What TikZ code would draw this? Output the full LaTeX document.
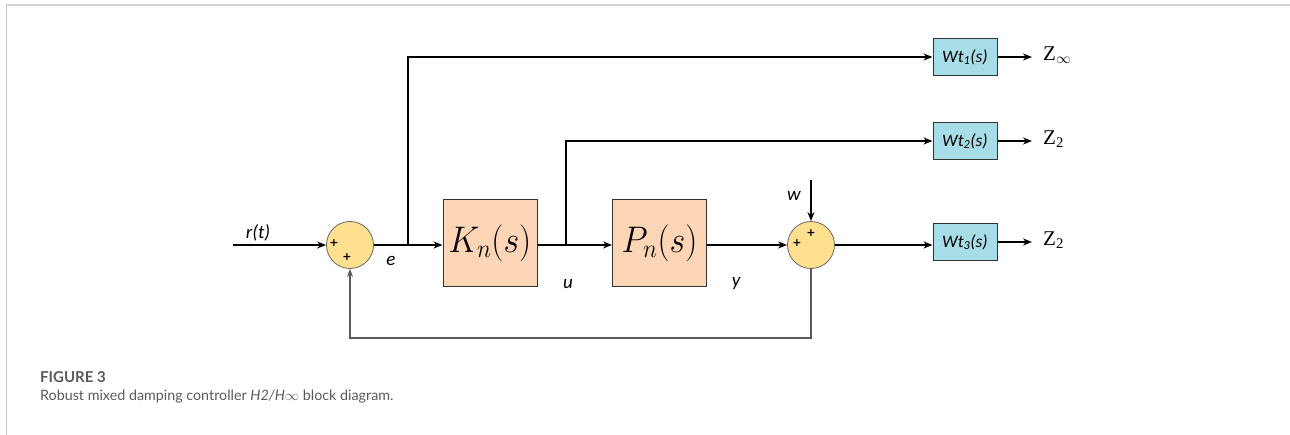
\RequirePackage{fix-cm}
\documentclass[tikz,border=0pt]{standalone}
\usepackage{fontspec}
\setmainfont{Lato}
\newfontfamily\carlito{Carlito}
\newfontfamily\lserif{Liberation Serif}
\newfontfamily\dejavu{DejaVu Sans}
\usetikzlibrary{arrows.meta}
\definecolor{sumfill}{HTML}{FFE08F}
\definecolor{kfill}{HTML}{FBD5B5}
\definecolor{wfill}{HTML}{A7DDE6}
\definecolor{capgray}{HTML}{5A5A5A}
\tikzset{
  sumnode/.style={circle, draw=gray!80!black, line width=0.8pt, fill=sumfill, minimum size=47pt, inner sep=0pt},
  blockbox/.style={draw=gray!40!black, line width=1pt, fill=kfill, minimum width=94pt, minimum height=87pt, inner sep=0pt},
  wbox/.style={draw=gray!40!black, line width=1pt, fill=wfill, minimum width=64pt, minimum height=37pt, inner sep=0pt, font=\carlito\itshape\fontsize{17.5}{17.5}\selectfont},
  sig/.style={line width=1.8pt, -{Stealth[length=9pt,width=7pt]}},
  fb/.style={line width=1.1pt, draw=gray!70!black, -{Stealth[length=8pt,width=6pt]}},
  lbl/.style={font=\carlito\itshape\fontsize{19}{19}\selectfont},
  plus/.style={font=\dejavu\bfseries\fontsize{11}{11}\selectfont, inner sep=0pt},
  zlbl/.style={font=\lserif\fontsize{21}{21}\selectfont, anchor=west, inner sep=0pt},
  blocklbl/.style={font=\fontsize{37}{37}\selectfont},
}
\begin{document}
\begin{tikzpicture}[x=1pt,y=-1pt]
\useasboundingbox (0,0) rectangle (1290,435);
% frame
\draw[line width=2pt, draw=gray!35] (6,5) -- (1290,5);
\draw[line width=0.8pt, draw=gray!45] (6.5,5) -- (6.5,435);

% nodes
\coordinate (rin) at (233,245);
\node[sumnode] (s1) at (350,245) {};
\node[plus] at (334,243) {+};
\node[plus] at (347,257) {+};
\node[blockbox, blocklbl] (K) at (490,243) {\scalebox{0.92}[1]{$K_n(s)$}};
\node[blockbox, blocklbl] (P) at (659.5,243) {\scalebox{0.92}[1]{$P_n(s)$}};
\node[sumnode] (s2) at (811,245) {};
\node[plus] at (797,243) {+};
\node[plus] at (811,233) {+};
\coordinate (win) at (811,180);
\node[wbox] (W1) at (965,57) {Wt\textsubscript{1}(s)};
\node[wbox] (W2) at (965,141) {Wt\textsubscript{2}(s)};
\node[wbox] (W3) at (965,242) {Wt\textsubscript{3}(s)};
\coordinate (b1) at (408,245);
\coordinate (b2) at (566,245);
\coordinate (fbc) at (811,338);
\coordinate (z1) at (1032,57);
\coordinate (z2) at (1032,141);
\coordinate (z3) at (1032,242);

% labels
\node[lbl] at (258,233) {r(t)};
\node[lbl] at (391,261) {e};
\node[lbl] at (568,284) {u};
\node[lbl] at (736,283) {y};
\node[lbl] at (794,196) {w};
\node[zlbl] at (1043,55) {Z\textsubscript{$\infty$}};
\node[zlbl] at (1043,139) {Z\textsubscript{2}};
\node[zlbl] at (1043,240) {Z\textsubscript{2}};

% connectors
\draw[sig] (rin) -- (s1.west);
\draw[sig] (s1.east) -- (K.west |- s1.east);
\draw[sig] (b1) |- (W1.west);
\draw[sig] (K.east |- b2) -- (P.west |- b2);
\draw[sig] (b2) |- (W2.west);
\draw[sig] (P.east |- s2.west) -- (s2.west);
\draw[sig] (win) -- (s2.north);
\draw[sig] (s2.east) -- (W3.west |- s2.east);
\draw[fb] (s2.south) -- (fbc) -| (s1.south);
\draw[sig] (W1.east) -- (z1);
\draw[sig] (W2.east) -- (z2);
\draw[sig] (W3.east) -- (z3);

% caption
\node[anchor=west, inner sep=0pt, text=capgray, font=\fontsize{15}{15}\selectfont\bfseries] at (40,377) {FIGURE 3};
\node[anchor=west, inner sep=0pt, text=capgray, font=\fontsize{14.3}{15}\selectfont] at (40,397) {Robust mixed damping controller \textit{H2/H$\infty$} block diagram.};
\end{tikzpicture}
\end{document}
